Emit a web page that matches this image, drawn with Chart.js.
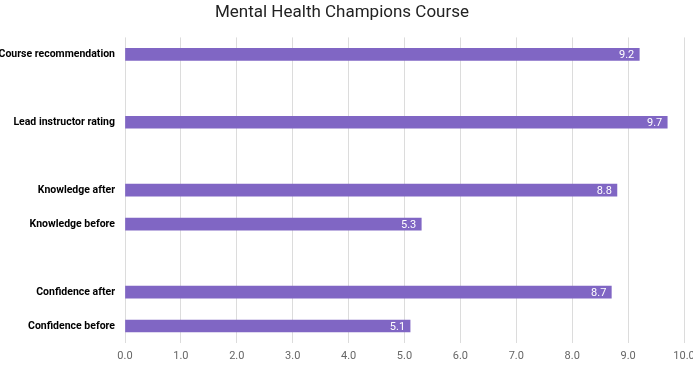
<!DOCTYPE html>
<html>
<head>
<meta charset="utf-8">
<script src="https://cdn.jsdelivr.net/npm/chart.js@4"></script>
<style>
  html, body { margin: 0; padding: 0; background: #fff; }
  #wrap { width: 693px; height: 365px; }
</style>
</head>
<body>
<div id="wrap"><canvas id="myChart"></canvas></div>
<script>
// empty labels are the gaps between groups
let categories = ['Course recommendation', '', 'Lead instructor rating', '', 'Knowledge after', 'Knowledge before', '', 'Confidence after', 'Confidence before'];
let scores = [9.2, null, 9.7, null, 8.8, 5.3, null, 8.7, 5.1];
let xTicks = [0, 1, 2, 3, 4, 5, 6, 7, 8, 9, 10];

// white value text at the end of each bar
const barValues = {
    id: 'barValues',
    afterDatasetsDraw(chart) {
        const ctx = chart.ctx;
        const meta = chart.getDatasetMeta(0);
        ctx.save();
        ctx.font = '11px Roboto';
        ctx.fillStyle = '#ffffff';
        ctx.textAlign = 'right';
        ctx.textBaseline = 'middle';
        meta.data.forEach((bar, i) => {
            if (scores[i] === null) return;
            ctx.fillText(scores[i].toFixed(1), bar.x - 5, bar.y + 1);
        });
        ctx.restore();
    }
};

new Chart(document.getElementById('myChart'), {
    type: 'bar',
    data: {
        labels: categories,
        datasets: [{
            data: scores,
            backgroundColor: '#8066c4',
            barThickness: 12
        }]
    },
    options: {
        indexAxis: 'y',
        responsive: true,
        maintainAspectRatio: false,
        animation: false,
        layout: { padding: { left: 0, right: 9, top: 0, bottom: 2 } },
        plugins: {
            legend: { display: false },
            tooltip: { enabled: false },
            title: {
                display: true,
                text: 'Mental Health Champions Course',
                color: '#222',
                font: { family: 'Roboto', size: 17, weight: 'normal' },
                padding: { top: 3, bottom: 14 }
            }
        },
        scales: {
            x: {
                min: 0,
                max: 10,
                afterBuildTicks(scale) {
                    scale.ticks = xTicks.map(v => ({ value: v }));
                },
                afterFit(scale) {
                    scale.paddingRight = 0;
                    scale.height = 20;
                },
                ticks: {
                    color: '#666',
                    font: { family: 'Roboto', size: 11 },
                    padding: 7,
                    callback: v => Number(v).toFixed(1)
                },
                grid: { color: '#dcdcdc', drawTicks: false },
                border: { display: false }
            },
            y: {
                afterFit(scale) { scale.width = 125; },
                ticks: {
                    color: '#000',
                    font: { family: 'Roboto', size: 10.5, weight: 'bold' },
                    padding: 10
                },
                grid: { display: false, drawTicks: false },
                border: { display: false }
            }
        }
    },
    plugins: [barValues]
});
</script>
</body>
</html>
